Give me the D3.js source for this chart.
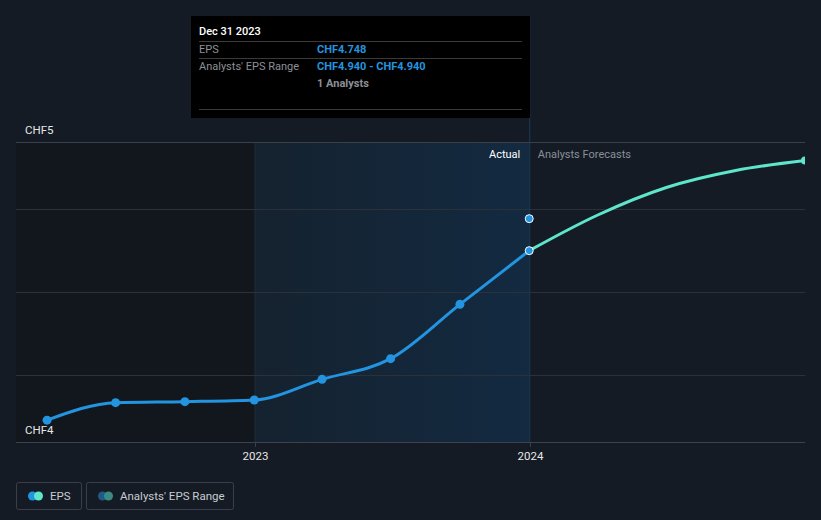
<!DOCTYPE html>
<html>
<head>
<meta charset="utf-8">
<script src="https://cdn.jsdelivr.net/npm/d3@7"></script>
<style>
  html, body { margin: 0; padding: 0; background: #151b24; }
  svg { display: block; font-family: Roboto, "Noto Sans", sans-serif; }
</style>
</head>
<body>
<svg id="chart" width="821" height="520"></svg>
<script>
// ---- data ----
const epsDates = ["2022-03-31", "2022-06-30", "2022-09-30", "2022-12-31", "2023-03-31", "2023-06-30", "2023-09-30", "2023-12-31"];
const epsValues = [3.731, 3.836, 3.842, 3.852, 3.976, 4.100, 4.426, 4.748];
const forecastDates = ["2023-12-31", "2024-03-31", "2024-06-30", "2024-09-30", "2024-12-31"];
const forecastValues = [4.748, 4.962, 5.127, 5.229, 5.289];
const rangeDates = ["2023-12-31"];
const rangeLow = [4.940];
const rangeHigh = [4.940];
const yTickValues = [4.0, 4.5, 5.0];
const yLabels = ["CHF5", "CHF4"];
const xTickDates = ["2023-01-01", "2024-01-01"];
const xTickLabels = ["2023", "2024"];
const legendLabels = ["EPS", "Analysts' EPS Range"];
const tooltipTitle = "Dec 31 2023";
const tooltipRows = [["EPS", "CHF4.748"], ["Analysts' EPS Range", "CHF4.940 - CHF4.940"], ["", "1 Analysts"]];

// ---- setup ----
const parse = d3.timeParse("%Y-%m-%d");
const svg = d3.select("#chart");
const W = 821, H = 520;
const pLeft = 16, pRight = 805, pTop = 142, pBottom = 442;

const x = d3.scaleTime()
  .domain([parse("2023-01-01"), parse("2024-01-01")])
  .range([255, 530]);
const y = d3.scaleLinear().domain([3.6, 5.4]).range([pBottom, pTop]);

svg.append("rect").attr("width", W).attr("height", H).attr("fill", "#151b24");

const defs = svg.append("defs");
defs.append("clipPath").attr("id", "plotClip")
  .append("rect").attr("x", pLeft).attr("y", 0).attr("width", pRight - pLeft).attr("height", H);
const grad = defs.append("linearGradient").attr("id", "hl").attr("x1", 0).attr("x2", 1).attr("y1", 0).attr("y2", 0);
grad.append("stop").attr("offset", "0%").attr("stop-color", "#15222f");
grad.append("stop").attr("offset", "100%").attr("stop-color", "#132a41");

const x2023 = x(parse(xTickDates[0]));
const xNow = x(parse(forecastDates[0]));

// past (darker) region
svg.append("rect").attr("x", pLeft).attr("y", pTop).attr("width", x2023 - pLeft).attr("height", pBottom - pTop)
  .attr("fill", "#12161d");
// highlight region
svg.append("rect").attr("x", x2023).attr("y", pTop).attr("width", xNow - x2023).attr("height", pBottom - pTop)
  .attr("fill", "url(#hl)");
// vertical lines
svg.append("line").attr("x1", x2023).attr("x2", x2023).attr("y1", pTop).attr("y2", pBottom)
  .attr("stroke", "#1f2c3a").attr("stroke-width", 1);
svg.append("line").attr("x1", xNow + 0.5).attr("x2", xNow + 0.5).attr("y1", 16).attr("y2", pBottom)
  .attr("stroke", "#1d3a55").attr("stroke-width", 1);

// gridlines
svg.append("g").selectAll("line").data(yTickValues).join("line")
  .attr("x1", pLeft).attr("x2", pRight)
  .attr("y1", d => Math.round(y(d)) + 0.5).attr("y2", d => Math.round(y(d)) + 0.5)
  .attr("stroke", "#2b313a").attr("stroke-width", 1);
svg.append("line").attr("x1", pLeft).attr("x2", pRight).attr("y1", pTop + 0.5).attr("y2", pTop + 0.5)
  .attr("stroke", "#3a404a");

// x axis
const xAxis = d3.axisBottom(x)
  .tickValues(xTickDates.map(parse))
  .tickFormat((d, i) => xTickLabels[i])
  .tickSize(5).tickPadding(5);
const gx = svg.append("g").attr("transform", `translate(0,${pBottom})`).call(xAxis);
gx.select(".domain").remove();
gx.selectAll(".tick line").attr("stroke", "#3a404a");
gx.selectAll(".tick text").attr("fill", "#e6e6e6").attr("font-size", 11.5).attr("font-family", "Roboto, sans-serif");
svg.append("line").attr("x1", pLeft).attr("x2", pRight).attr("y1", pBottom + 0.5).attr("y2", pBottom + 0.5)
  .attr("stroke", "#3d434d");

// y labels
svg.append("text").attr("x", 25).attr("y", pTop - 8).text(yLabels[0])
  .attr("fill", "#e6e6e6").attr("font-size", 11.5);
svg.append("text").attr("x", 25).attr("y", pBottom - 8).text(yLabels[1])
  .attr("fill", "#e6e6e6").attr("font-size", 11.5);

// Actual / Analysts Forecasts labels
svg.append("text").attr("x", xNow - 9).attr("y", 158).attr("text-anchor", "end").text("Actual")
  .attr("fill", "#ffffff").attr("font-size", 11);
svg.append("text").attr("x", xNow + 8.5).attr("y", 158).text("Analysts Forecasts")
  .attr("fill", "#8a8f98").attr("font-size", 11);

// lines
const plot = svg.append("g").attr("clip-path", "url(#plotClip)");
const eps = epsDates.map((d, i) => ({ date: parse(d), v: epsValues[i] }));
const fc = forecastDates.map((d, i) => ({ date: parse(d), v: forecastValues[i] }));
const line = d3.line().x(d => x(d.date)).y(d => y(d.v)).curve(d3.curveMonotoneX);

plot.append("path").datum(fc).attr("d", line).attr("fill", "none")
  .attr("stroke", "#5ee6cd").attr("stroke-width", 3).attr("stroke-linecap", "round");
plot.append("path").datum(eps).attr("d", line).attr("fill", "none")
  .attr("stroke", "#2394df").attr("stroke-width", 3).attr("stroke-linecap", "round");

plot.selectAll("circle.eps").data(eps.slice(0, eps.length - 1)).join("circle").attr("class", "eps")
  .attr("cx", d => x(d.date)).attr("cy", d => y(d.v)).attr("r", 4.5).attr("fill", "#2394df");
// forecast end marker
plot.append("circle").attr("cx", x(fc[fc.length - 1].date)).attr("cy", y(fc[fc.length - 1].v))
  .attr("r", 4).attr("fill", "#5ee6cd");
// highlighted current point
const last = eps[eps.length - 1];
plot.append("circle").attr("cx", x(last.date)).attr("cy", y(last.v)).attr("r", 4)
  .attr("fill", "#2394df").attr("stroke", "#ffffff").attr("stroke-width", 1);
// range point
rangeDates.forEach((d, i) => {
  plot.append("circle").attr("cx", x(parse(d))).attr("cy", y(rangeHigh[i])).attr("r", 4)
    .attr("fill", "#2394df").attr("stroke", "#ffffff").attr("stroke-width", 1);
});

// tooltip
const tt = svg.append("g");
tt.append("rect").attr("x", 191).attr("y", 16).attr("width", 339).attr("height", 102).attr("fill", "#000000");
tt.append("text").attr("x", 199).attr("y", 35).text(tooltipTitle).attr("fill", "#ffffff")
  .attr("font-size", 11).attr("font-weight", 500);
[41, 58, 109].forEach(yy => {
  tt.append("line").attr("x1", 199).attr("x2", 522).attr("y1", yy + 0.5).attr("y2", yy + 0.5)
    .attr("stroke", "#3a3a3a");
});
const rowY = [53, 70, 87];
tooltipRows.forEach((r, i) => {
  tt.append("text").attr("x", 199).attr("y", rowY[i]).text(r[0]).attr("fill", "#8d9096").attr("font-size", 11);
  tt.append("text").attr("x", 317).attr("y", rowY[i]).text(r[1])
    .attr("fill", i < 2 ? "#2394df" : "#8d9096").attr("font-size", 11).attr("font-weight", 700);
});

// legend
const lg = svg.append("g");
const legendBoxes = [{ x: 16.5, w: 65 }, { x: 86.5, w: 147 }];
const legendColors = [["#2394df", "#5ee6cd"], ["#1f5a88", "#3d8a80"]];
legendBoxes.forEach((b, i) => {
  lg.append("rect").attr("x", b.x).attr("y", 482.5).attr("width", b.w).attr("height", 27).attr("rx", 2)
    .attr("fill", "none").attr("stroke", "#3a3f4a");
  lg.append("circle").attr("cx", b.x + 16).attr("cy", 496).attr("r", 4.5).attr("fill", legendColors[i][0]);
  lg.append("circle").attr("cx", b.x + 22).attr("cy", 496).attr("r", 4.5).attr("fill", legendColors[i][1]);
  lg.append("text").attr("x", b.x + 33.5).attr("y", 500).text(legendLabels[i])
    .attr("fill", "#c8cbd0").attr("font-size", 11.5);
});
</script>
</body>
</html>
